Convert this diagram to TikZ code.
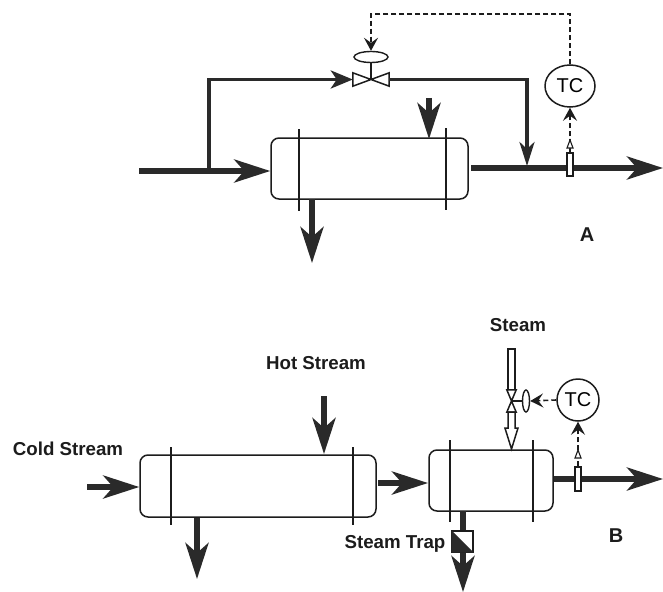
\documentclass[tikz,border=0pt]{standalone}
\usepackage{fontspec}
\setmainfont{Liberation Sans}
\usetikzlibrary{arrows.meta,shapes.geometric}
\definecolor{pipeblack}{HTML}{2A2A2A}
\definecolor{inkline}  {HTML}{1C1C1C}

\begin{document}
\begin{tikzpicture}[
  x=1pt, y=-1pt,
  hx/.style={draw=inkline,line width=1.5pt,rounded corners=8pt,inner sep=0pt,fill=white},
  sheet/.style={draw=inkline,line width=1.4pt},
  pipe/.style={draw=pipeblack,line width=5.5pt},
  flow/.style={pipe,-{Stealth[length=36pt,width=23pt,inset=10pt]}},
  thinflow/.style={draw=pipeblack,line width=3.6pt,line join=miter},
  signal/.style={draw=inkline,line width=1.6pt,dash pattern=on 5pt off 3pt},
  sigarr/.style={signal,-{Stealth[length=13pt,width=14pt,inset=5pt,fill=inkline]}},
  valvebox/.style={inner sep=0pt,minimum width=36pt,minimum height=13pt},
  valveline/.style={draw=inkline,line width=1.5pt,fill=white},
  actu/.style={draw=inkline,line width=1.4pt,ellipse,inner sep=0pt,fill=white},
  tc/.style={draw=inkline,line width=1.5pt,ellipse,inner sep=0pt,fill=white,font=\fontsize{20}{20}\selectfont},
  sensor/.style={draw=inkline,line width=1.2pt,fill=white,inner sep=0pt,minimum width=6pt,minimum height=23pt},
  lbl/.style={font=\fontsize{18.7}{19}\selectfont\bfseries,text=inkline,inner sep=0pt},
  biglbl/.style={font=\fontsize{20}{20}\selectfont\bfseries,text=inkline,inner sep=0pt},
]
\useasboundingbox (0,0) rectangle (663,591);

%% Diagram A: exchanger with bypass
\node[hx,minimum width=197pt,minimum height=61pt] (hxa) at (369.5,168.5) {};
\draw[sheet] (299,129) -- (299,211);
\draw[sheet] (446,128) -- (446,210);

\node[valvebox] (valvea) at (371,79.5) {};
\draw[valveline] (valvea.north west) -- (valvea.south east) -- (valvea.north east)
  -- (valvea.south west) -- cycle;
\node[actu,minimum width=34pt,minimum height=11pt] (actua) at (371,57) {};
\node[tc,minimum width=50pt,minimum height=42pt] (tca) at (570,86) {TC};

\coordinate (ina)    at (139,171);
\coordinate (brancha) at (209,171);
\coordinate (outa)   at (471,168);
\coordinate (enda)   at (663,168);
\coordinate (joina)  at (527,166);
\coordinate (hota)   at (429,98);
\coordinate (hotatip) at (429,139);
\coordinate (drain)  at (312,199);
\coordinate (draintip) at (312,263);
\coordinate (siga)   at (570,14);
\coordinate (siga2)  at (371,14);

%% A: pipes
\draw[flow] (ina) -- (ina -| hxa.west);
\draw[thinflow,-{Stealth[length=22pt,width=18pt,inset=6pt]}] (brancha) |- (valvea.west);
\draw[thinflow,-{Stealth[length=24pt,width=15pt,inset=7pt]}] (valvea.east) -| (joina);
\draw[flow] (outa) -- (enda);
\draw[flow] (hota) -- (hotatip);
\draw[flow] (drain) -- (draintip);

%% A: control loop
\node[sensor] (sensa) at (570,164.5) {};
\draw[sheet] (actua) -- (valvea.center);
\draw[sigarr] (tca.north) -- (siga) -- (siga2) -- (actua.north);
\draw[sigarr] (sensa.north) -- (tca.south);
\draw[draw=inkline,line width=1.1pt,fill=white] (570,140) -- (573,148) -- (567,148) -- cycle;
\node[biglbl] (laba) at (587,235) {A};

%% Diagram B: two exchangers in series
\node[hx,minimum width=236pt,minimum height=62pt] (hxb) at (258,486) {};
\draw[sheet] (171,447) -- (171,525);
\draw[sheet] (353,447) -- (353,525);
\node[hx,minimum width=124pt,minimum height=61pt] (hxc) at (491,480.5) {};
\draw[sheet] (450,440) -- (450,522);
\draw[sheet] (533,440) -- (533,522);

\node[inner sep=0pt,draw=inkline,line width=1.3pt,fill=white,minimum width=7pt,minimum height=41pt] (steampipe) at (511.5,369.5) {};
\node[valvebox,minimum width=9pt,minimum height=22pt] (valveb) at (511.5,401) {};
\node[actu,minimum width=7pt,minimum height=22pt] (actub) at (526,401) {};
\draw[sheet] (actub) -- (valveb.center);
\draw[valveline] (valveb.north west) -- (valveb.south east) -- (valveb.south west)
  -- (valveb.north east) -- cycle;
\node[tc,minimum width=42pt,minimum height=42pt] (tcb) at (578,400) {TC};

%% hollow steam arrow under the valve
\coordinate (steamtip) at (511.5,449);
\draw[valveline] (valveb.south) ++(-3.5,0) -- ++(0,16) -- ++(-3,0) -- (steamtip)
  -- ++(6.5,-21) -- ++(-3,0) -- ++(0,-16) -- cycle;

\node[draw=inkline,line width=1.2pt,fill=white,inner sep=0pt,minimum size=21pt] (trap) at (462.5,541.5) {};
\fill[pipeblack] (trap.north west) -- (trap.south east) -- (trap.south west) -- cycle;

\coordinate (incold) at (87,487);
\coordinate (inhot)  at (324,396);
\coordinate (inhottip) at (324,454);
\coordinate (drainb) at (197,518);
\coordinate (drainbtip) at (197,579);
\coordinate (trapin) at (463,511);
\coordinate (traptip) at (463,592);
\coordinate (linkb)  at (378,483);
\coordinate (linkbtip) at (428,483);
\coordinate (outb)   at (554,479);
\coordinate (endb)   at (663,479);

%% B: pipes
\draw[flow] (incold) -- (incold -| hxb.west);
\draw[flow] (inhot) -- (inhottip);
\draw[flow] (drainb) -- (drainbtip);
\draw[flow] (linkb) -- (linkbtip);
\draw[flow] (outb) -- (endb);
\draw[pipe] (trapin) -- (trapin |- trap.north);
\draw[flow] (trapin |- trap.south) -- (traptip);

%% B: control loop
\node[sensor,minimum height=24pt] (sensb) at (578,479) {};
\draw[sigarr] (tcb.west) -- (actub.east);
\draw[sigarr] (sensb.north) -- (tcb.south);
\draw[draw=inkline,line width=1.1pt,fill=white] (578,450) -- (581,458) -- (575,458) -- cycle;

\node[lbl] (labsteam) at (518,325) {Steam};
\node[lbl] (labhot)   at (316,363) {Hot Stream};
\node[lbl] (labcold)  at (68,449)  {Cold Stream};
\node[lbl] (labtrap)  at (395,544) {Steam Trap};
\node[biglbl] (labb) at (616,536) {B};
\end{tikzpicture}
\end{document}
